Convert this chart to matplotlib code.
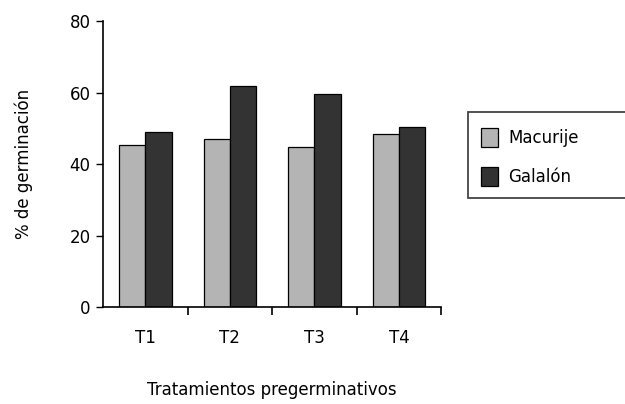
import matplotlib
matplotlib.use("Agg")
from matplotlib import pyplot as plt
from matplotlib.patches import Rectangle
import numpy as np

plt.rcParams['font.family'] = ['DejaVu Sans']

# Data
tratamientos = ['T1', 'T2', 'T3', 'T4']
macurije = [45.3, 46.9, 44.7, 48.3]
galalon = [49.0, 61.9, 59.5, 50.3]

fig = plt.figure(figsize=(6.25, 4.04), dpi=100)
ax = fig.add_axes([0.165, 0.24, 0.541, 0.708])

x = np.arange(len(tratamientos))
w = 0.31
b1 = ax.bar(x - w / 2, macurije, w, color='#b4b4b4', edgecolor='black', linewidth=0.9, label='Macurije')
b2 = ax.bar(x + w / 2, galalon, w, color='#333333', edgecolor='black', linewidth=0.9, label='Galalón')

ax.set_xlim(-0.5, 3.5)
ax.set_ylim(0, 80)
ax.set_yticks([0, 20, 40, 60, 80])
ax.set_xticks(x)
ax.set_xticklabels(tratamientos)
ax.set_xticks(np.arange(0.5, 4.0, 1.0), minor=True)
ax.tick_params(axis='x', which='major', length=0, pad=16, labelsize=12)
ax.tick_params(axis='x', which='minor', length=6, width=1.2, direction='out')
ax.tick_params(axis='y', length=5, width=1.0, labelsize=12, pad=4)

for s in ['top', 'right']:
    ax.spines[s].set_visible(False)
ax.spines['left'].set_linewidth(1.2)
ax.spines['bottom'].set_linewidth(1.2)

ax.set_xlabel('Tratamientos pregerminativos', fontsize=12, labelpad=24)
ax.set_ylabel('% de germinación', fontsize=12, labelpad=26)

# legend box running off the right edge
fig.patches.append(Rectangle((0.748, 0.51), 0.27, 0.212, transform=fig.transFigure,
                             facecolor='white', edgecolor='#444444', linewidth=1.3))
fig.legend(handles=[b1, b2], loc='upper left', bbox_to_anchor=(0.745, 0.72),
           frameon=False, fontsize=12, handlelength=1.05, handleheight=1.4,
           labelspacing=1.15, handletextpad=0.6)

fig.savefig('out.png', dpi=100)
